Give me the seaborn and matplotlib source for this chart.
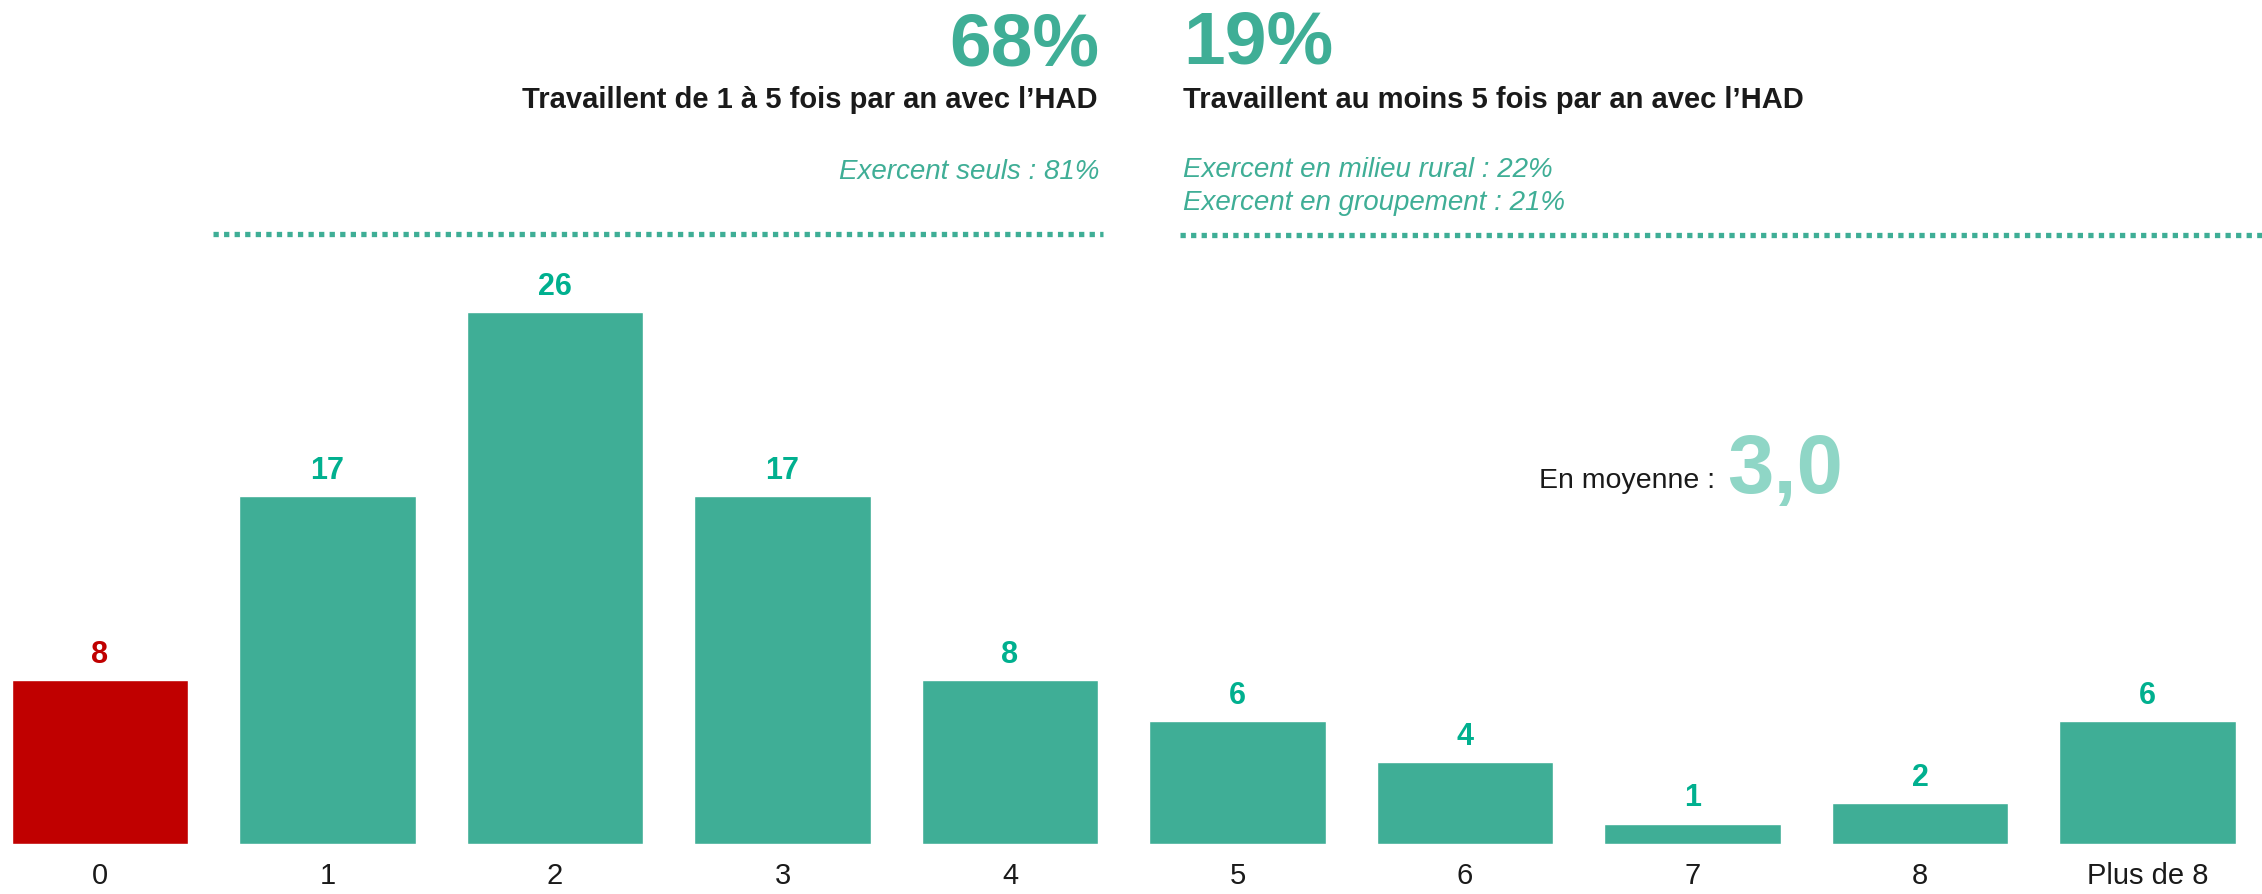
import matplotlib
matplotlib.use("Agg")
import matplotlib.pyplot as plt
from matplotlib.lines import Line2D
import seaborn as sns
import pandas as pd

# ---- data ----
categories = ["0", "1", "2", "3", "4", "5", "6", "7", "8", "Plus de 8"]
values = [8, 17, 26, 17, 8, 6, 4, 1, 2, 6]
bar_colors = ["#c00000"] + ["#3fae96"] * 9
label_colors = ["#c00000"] + ["#00b08f"] * 9

stat_left = "68%"
stat_left_text = "Travaillent de 1 à 5 fois par an avec l’HAD"
stat_left_sub = ["Exercent seuls : 81%"]
stat_right = "19%"
stat_right_text = "Travaillent au moins 5 fois par an avec l’HAD"
stat_right_sub = ["Exercent en milieu rural : 22%", "Exercent en groupement : 21%"]
mean_label = "En moyenne :"
mean_value = "3,0"

TEAL = "#3fae96"
DARK = "#1a1a1a"

sns.set_theme(style="white")
plt.rcParams["font.family"] = ["Liberation Sans", "DejaVu Sans"]

W, H = 2262, 894
fig = plt.figure(figsize=(W / 100, H / 100), dpi=100)
ax = fig.add_axes([0, (H - 844) / H, 1, 844 / H])

df = pd.DataFrame({"cat": categories, "val": values})
sns.barplot(data=df, x="cat", y="val", hue="cat", palette=bar_colors,
            width=0.774, saturation=1, legend=False, ax=ax)

ax.set_xlim(-100 / 227.5, (W - 100) / 227.5)
ax.set_ylim(0, 844 / 20.45)
ax.set_xlabel("")
ax.set_ylabel("")
ax.set_yticks([])
ax.tick_params(axis="x", length=0, pad=13, labelsize=21, labelcolor=DARK)
for s in ax.spines.values():
    s.set_visible(False)

for i, (v, c) in enumerate(zip(values, label_colors)):
    ax.annotate(str(v), xy=(i, v), xytext=(0, 12.5), textcoords="offset points",
                ha="center", va="baseline", fontsize=22, fontweight="bold", color=c)


def ftext(x, y, s, **kw):
    fig.text(x / W, 1 - y / H, s, va="baseline", **kw)


# left header block
ftext(1099, 65, stat_left, ha="right", fontsize=54, fontweight="bold", color=TEAL)
ftext(1097, 108, stat_left_text, ha="right", fontsize=21, fontweight="bold", color=DARK)
for k, s in enumerate(stat_left_sub):
    ftext(1099, 179 + 33 * k, s, ha="right", fontsize=20, style="italic", color=TEAL)

# right header block
ftext(1183, 63, stat_right, ha="left", fontsize=54, fontweight="bold", color=TEAL)
ftext(1183, 108, stat_right_text, ha="left", fontsize=21, fontweight="bold", color=DARK)
for k, s in enumerate(stat_right_sub):
    ftext(1183, 177 + 33 * k, s, ha="left", fontsize=20, style="italic", color=TEAL)

# dotted separators
for x0, x1, y in [(213, 1103, 234), (1180, W, 235)]:
    fig.add_artist(Line2D([x0 / W, x1 / W], [1 - y / H, 1 - y / H],
                          transform=fig.transFigure, color=TEAL, lw=3.8,
                          linestyle=(0, (1, 1)), dash_capstyle="butt"))

# mean annotation
ftext(1539, 488, mean_label, ha="left", fontsize=20.5, color=DARK)
ftext(1727, 493, mean_value, ha="left", fontsize=60, fontweight="bold", color="#8fd6c6")

fig.savefig("out.png", dpi=100, facecolor="white")
